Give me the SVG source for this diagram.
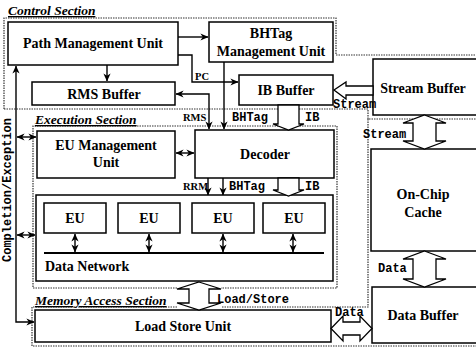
<svg xmlns="http://www.w3.org/2000/svg" width="476" height="349" viewBox="0 0 476 349">
  <style>
    .box { fill: #fff; stroke: #000; stroke-width: 1.5; }
    .sec { fill: none; stroke: #333; stroke-width: 1.2; stroke-dasharray: 1.5 1; }
    .wire { fill: none; stroke: #000; stroke-width: 1.4; }
    .hollow { fill: #fff; stroke: #000; stroke-width: 1.3; stroke-linejoin: miter; }
    .lbl { font-family: 'Liberation Serif', 'DejaVu Serif', 'Times New Roman', serif; font-weight: bold; font-size: 14px; text-anchor: middle; fill: #000; }
    .sect { font-family: 'Liberation Serif', 'DejaVu Serif', 'Times New Roman', serif; font-weight: bold; font-style: italic; font-size: 13.5px; text-decoration: underline; fill: #000; }
    .mono { font-family: 'Liberation Mono', 'DejaVu Sans Mono', 'Courier New', monospace; font-weight: bold; font-size: 12px; fill: #000; }
    .small { font-family: 'Liberation Serif', 'DejaVu Serif', 'Times New Roman', serif; font-weight: bold; font-size: 10.5px; fill: #000; }
  </style>
  <defs>
    <marker id="ah" viewBox="0 0 10 10" refX="9.5" refY="5" markerWidth="8" markerHeight="8" markerUnits="userSpaceOnUse" orient="auto-start-reverse">
      <path d="M0,0.5 L10,5 L0,9.5 L3,5 z" fill="#000"/>
    </marker>
  </defs>

  <rect width="476" height="349" fill="#fff"/>

  <!-- section outlines -->
  <g id="sections">
    <path class="sec" d="M4,109 V18 H336 V55 H476"/>
    <path class="sec" d="M4,109 H368 V119 H476"/>
    <path class="sec" d="M177,288 H33 V126 H337 V288 H221"/>
    <path class="sec" d="M368,119 V307 H221"/>
    <path class="sec" d="M177,307 H32 V346 H476"/>
    <text class="sect" x="8" y="15">Control Section</text>
    <text class="sect" x="35" y="124">Execution Section</text>
    <text class="sect" x="35" y="305">Memory Access Section</text>
  </g>

  <!-- nodes -->
  <g id="pmu">
    <rect class="box" x="8" y="22" width="170" height="43"/>
    <text class="lbl" x="93" y="48">Path Management Unit</text>
  </g>
  <g id="bhtag-mu">
    <rect class="box" x="209" y="22" width="124" height="40"/>
    <text class="lbl" x="271" y="38">BHTag</text>
    <text class="lbl" x="271" y="56">Management Unit</text>
  </g>
  <g id="rms-buffer">
    <rect class="box" x="32" y="82" width="143" height="23"/>
    <text class="lbl" x="104" y="99">RMS Buffer</text>
  </g>
  <g id="ib-buffer">
    <rect class="box" x="239" y="75" width="94" height="30"/>
    <text class="lbl" x="286" y="95">IB Buffer</text>
  </g>
  <g id="stream-buffer">
    <rect class="box" x="373" y="59" width="106" height="56"/>
    <text class="lbl" x="423" y="93">Stream Buffer</text>
  </g>
  <g id="eu-mu">
    <rect class="box" x="37" y="131" width="138" height="47"/>
    <text class="lbl" x="106" y="150">EU Management</text>
    <text class="lbl" x="106" y="167">Unit</text>
  </g>
  <g id="decoder">
    <rect class="box" x="195" y="130" width="139" height="48"/>
    <text class="lbl" x="265" y="159">Decoder</text>
  </g>
  <g id="eu-array">
    <rect class="box" x="36" y="195" width="297" height="86"/>
    <rect class="box" x="44" y="203" width="62" height="30"/>
    <text class="lbl" x="75" y="223">EU</text>
    <rect class="box" x="118" y="203" width="62" height="30"/>
    <text class="lbl" x="149" y="223">EU</text>
    <rect class="box" x="192" y="203" width="62" height="30"/>
    <text class="lbl" x="223" y="223">EU</text>
    <rect class="box" x="263" y="203" width="62" height="30"/>
    <text class="lbl" x="294" y="223">EU</text>
    <line x1="44" y1="253" x2="324" y2="253" stroke="#000" stroke-width="2.2"/>
    <text class="lbl" x="45" y="271" style="text-anchor:start">Data Network</text>
  </g>
  <g id="on-chip-cache">
    <rect class="box" x="371" y="149" width="108" height="102"/>
    <text class="lbl" x="423" y="199">On-Chip</text>
    <text class="lbl" x="423" y="217">Cache</text>
  </g>
  <g id="data-buffer">
    <rect class="box" x="372" y="287" width="107" height="56"/>
    <text class="lbl" x="423" y="320">Data Buffer</text>
  </g>
  <g id="lsu">
    <rect class="box" x="35" y="310" width="296" height="32"/>
    <text class="lbl" x="183" y="331">Load Store Unit</text>
  </g>

  <!-- connectors -->
  <g id="connectors">
    <path class="wire" d="M178,37 H208" marker-end="url(#ah)"/>
    <path class="wire" d="M107,65 V81" marker-end="url(#ah)"/>
    <path class="wire" d="M178,55 H192 V82 H238" marker-end="url(#ah)"/>
    <path class="wire" d="M224,62 V129" marker-end="url(#ah)"/>
    <path class="wire" d="M176,94 H209 V129" marker-start="url(#ah)" marker-end="url(#ah)"/>
    <path class="wire" d="M16,66 V322 H34" marker-start="url(#ah)" marker-end="url(#ah)"/>
    <path class="wire" d="M17,137 H36" marker-start="url(#ah)" marker-end="url(#ah)"/>
    <path class="wire" d="M17,235 H35" marker-start="url(#ah)" marker-end="url(#ah)"/>
    <path class="wire" d="M176,153 H194" marker-start="url(#ah)" marker-end="url(#ah)"/>
    <path class="wire" d="M208,178 V195" marker-end="url(#ah)"/>
    <path class="wire" d="M223,178 V195" marker-end="url(#ah)"/>
    <path class="wire" d="M75,234 V252" marker-start="url(#ah)" marker-end="url(#ah)"/>
    <path class="wire" d="M149,234 V252" marker-start="url(#ah)" marker-end="url(#ah)"/>
    <path class="wire" d="M223,234 V252" marker-start="url(#ah)" marker-end="url(#ah)"/>
    <path class="wire" d="M293,234 V252" marker-start="url(#ah)" marker-end="url(#ah)"/>

    <!-- wide data paths -->
    <polygon class="hollow" points="278,105 278,124 273,124 288.5,130 304,124 299,124 299,105"/>
    <polygon class="hollow" points="278,178 278,190 273,190 288.5,196 304,190 299,190 299,178"/>
    <polygon class="hollow" points="373,86 346,86 346,82 334,90 346,99 346,95 373,95"/>
    <polygon class="hollow" points="424.5,115 446,123 436,123 436,141 446,141 424.5,149 403,141 413,141 413,123 403,123"/>
    <polygon class="hollow" points="424.5,251 446,259 436,259 436,279 446,279 424.5,287 403,279 413,279 413,259 403,259"/>
    <polygon class="hollow" points="331,328.5 343,316 343,322 360,322 360,316 372,328.5 360,341 360,335 343,335 343,341"/>
    <polygon class="hollow" points="199,282 221,289 209,289 209,303 221,303 199,310 177,303 189,303 189,289 177,289"/>

    <text class="small" x="195" y="80">PC</text>
    <text class="small" x="183" y="121">RMS</text>
    <text class="mono" x="232" y="121">BHTag</text>
    <text class="mono" x="305" y="121">IB</text>
    <text class="small" x="183" y="190">RRM</text>
    <text class="mono" x="229" y="190">BHTag</text>
    <text class="mono" x="305" y="190">IB</text>
    <text class="mono" x="333" y="108">Stream</text>
    <text class="mono" x="363" y="138">Stream</text>
    <text class="mono" x="378" y="272">Data</text>
    <text class="mono" x="335" y="316">Data</text>
    <text class="mono" x="217" y="303">Load/Store</text>
    <text class="mono" transform="translate(11,190) rotate(-90)" text-anchor="middle">Completion/Exception</text>
  </g>
</svg>
